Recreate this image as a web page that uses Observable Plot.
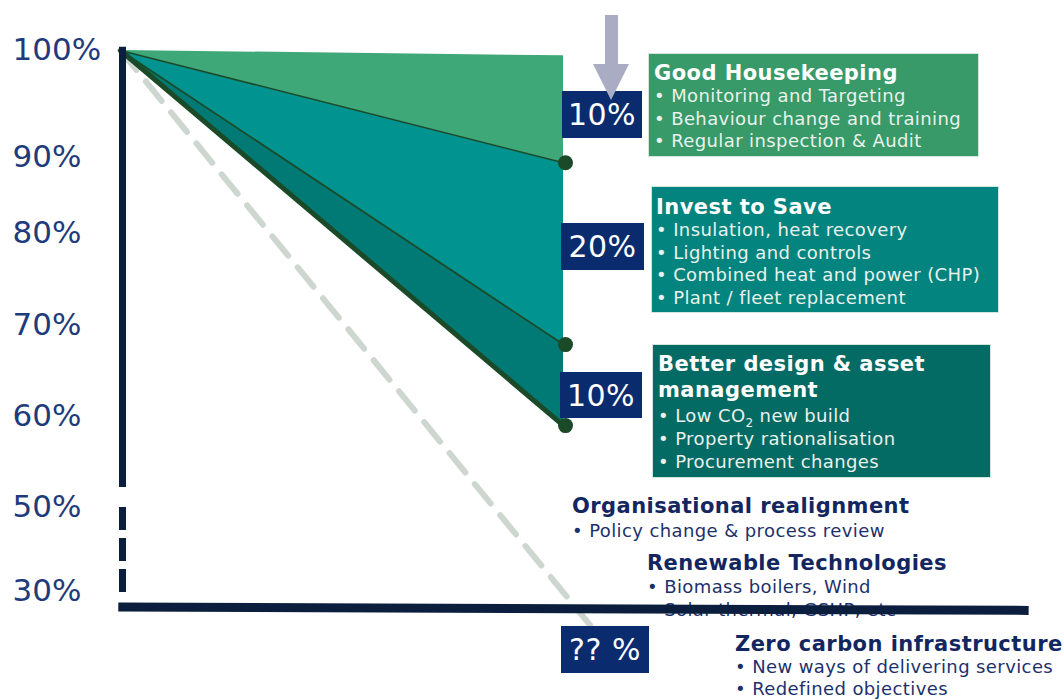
<!DOCTYPE html>
<html><head><meta charset="utf-8">
<script src="https://cdn.jsdelivr.net/npm/d3@7"></script>
<script src="https://cdn.jsdelivr.net/npm/@observablehq/plot@0.6"></script>
<style>
body{margin:0;background:#fff;font-family:"DejaVu Sans",Verdana,sans-serif;}
#wrap{position:relative;width:1064px;height:699px;overflow:hidden;}
.box{position:absolute;box-sizing:border-box;color:#e9f2ec;z-index:2;border:1px solid #d3e6db;}
.t{font-weight:bold;font-size:21px;line-height:24px;color:#fff;white-space:nowrap;letter-spacing:0.45px}
.b{font-size:18px;line-height:22.5px;white-space:nowrap;letter-spacing:0.4px}
.pct{position:absolute;z-index:2;background:#0b2b6f;color:#fff;font-size:30px;display:flex;align-items:center;justify-content:center;box-sizing:border-box;letter-spacing:0.5px}
.low{position:absolute;z-index:0;color:#1c316c}
.low .t{color:#13265f}
.sub{font-size:12px;position:relative;top:5px;line-height:0}
</style></head><body><div id="wrap"></div>
<script>
// ---- data ----
const yTicks = [100, 90, 80, 70, 60, 50, 30];
const stages = [0, 1];                 // start, end of programme
const startLevel = 100;
const bandTop = 99.5;                  // top edge of first band at end
const housekeepingEnd = 89.3;
const investEnd = 67.9;
const designEnd = 59.0;
const projectedEnd = 22;               // dashed projection end value
const projectedStage = 1.06;
const savings = ["10%", "20%", "10%", "?? %"];
const boxTitles = ["Good Housekeeping", "Invest to Save", "Better design &amp; asset management"];
const boxItems = [
  ["Monitoring and Targeting", "Behaviour change and training", "Regular inspection &amp; Audit"],
  ["Insulation, heat recovery", "Lighting and controls", "Combined heat and power (CHP)", "Plant / fleet replacement"],
  ["Low CO<span class='sub'>2</span> new build", "Property rationalisation", "Procurement changes"]
];
const furtherTitles = ["Organisational realignment", "Renewable Technologies", "Zero carbon infrastructure"];
const furtherItems = [
  ["Policy change &amp; process review"],
  ["Biomass boilers, Wind", "Solar thermal, GSHP, etc"],
  ["New ways of delivering services", "Redefined objectives"]
];

// ---- derived tables ----
const bands = [
  {fill: "#3ea879", top: [startLevel, bandTop], bottom: [startLevel, housekeepingEnd]},
  {fill: "#00938f", top: [startLevel, housekeepingEnd], bottom: [startLevel, investEnd]},
  {fill: "#017a76", top: [startLevel, investEnd], bottom: [startLevel, designEnd]}
];
const bandRows = bands.map(b => stages.map((s, i) => ({x: s, y1: b.top[i], y2: b.bottom[i]})));
const ends = [housekeepingEnd, investEnd, designEnd];
const pathLines = ends.map(e => [{x: stages[0], y: startLevel}, {x: stages[1], y: e}]);
const projected = [{x: 0, y: startLevel}, {x: projectedStage, y: projectedEnd}];

const green = "#1b4a29", navy = "#0c1e3e";

const plot = Plot.plot({
  width: 1064, height: 699,
  marginLeft: 0, marginRight: 0, marginTop: 0, marginBottom: 0,
  style: {fontFamily: "DejaVu Sans, Verdana, sans-serif", background: "transparent", overflow: "visible"},
  x: {domain: [0, 1], range: [120, 563], axis: null},
  y: {type: "linear", domain: yTicks, range: [50, 157, 233, 325, 416, 507, 591], axis: null},
  marks: [
    Plot.line(projected, {x: "x", y: "y", stroke: "#cdd7d0", strokeWidth: 6, strokeDasharray: "25,15"}),
    ...bandRows.map((rows, i) => Plot.areaY(rows, {x: "x", y1: "y1", y2: "y2", fill: bands[i].fill})),
    Plot.line(pathLines[0], {x: "x", y: "y", stroke: green, strokeWidth: 1.5}),
    Plot.line(pathLines[1], {x: "x", y: "y", stroke: green, strokeWidth: 1.8}),
    Plot.line(pathLines[2], {x: "x", y: "y", stroke: green, strokeWidth: 5}),
    Plot.dot(ends, {x: () => 1, y: d => d, r: 7.5, fill: green, dx: 2}),
    Plot.ruleX([0], {y1: 100.3, y2: 52.2, stroke: navy, strokeWidth: 7, dx: 2}),
    Plot.ruleX([0], {y1: 50, y2: 29.5, stroke: navy, strokeWidth: 7, dx: 2, strokeDasharray: "23,8"}),
    Plot.link([{x1: -0.005, y1: 26.3, x2: 2.05, y2: 25.5}], {x1: "x1", y1: "y1", x2: "x2", y2: "y2", stroke: navy, strokeWidth: 9}),
    Plot.text(yTicks, {y: d => d, text: d => `${d}%`, frameAnchor: "left", textAnchor: "start", dx: 12, fontSize: 31, fill: "#1f3b7b"})
  ]
});
plot.style.position = "absolute";
plot.style.left = "0px";
plot.style.top = "0px";
plot.style.zIndex = "1";
const wrap = document.getElementById("wrap");
wrap.appendChild(plot);

// ---- annotation layout ----
function el(tag, cls, css, html) {
  const e = document.createElement(tag);
  if (cls) e.className = cls;
  Object.assign(e.style, css || {});
  if (html != null) e.innerHTML = html;
  return e;
}
const boxLayout = [
  {left: "648px", top: "53px", width: "331px", height: "104px", background: "#379a68", padding: "7px 0 0 5px"},
  {left: "651px", top: "186px", width: "348px", height: "127px", background: "#04847f", padding: "8px 0 0 4px"},
  {left: "652px", top: "344px", width: "339px", height: "134px", background: "#046a64", padding: "6px 0 0 5px"}
];
boxTitles.forEach((t, i) => {
  const b = el("div", "box", boxLayout[i]);
  const title = el("div", "t", i === 2 ? {lineHeight: "26px", whiteSpace: "normal", width: "300px"} : {}, t);
  b.appendChild(title);
  boxItems[i].forEach((it, j) => b.appendChild(el("div", "b", i === 2 ? {lineHeight: "23px", marginTop: j === 0 ? "1px" : "0"} : {}, "• " + it)));
  wrap.appendChild(b);
});
const pctLayout = [
  {left: "562px", top: "91px", width: "80px", height: "47px"},
  {left: "561px", top: "223px", width: "83px", height: "47px"},
  {left: "560px", top: "372px", width: "82px", height: "46px"},
  {left: "561px", top: "626px", width: "88px", height: "47px"}
];
savings.forEach((s, i) => wrap.appendChild(el("div", "pct", pctLayout[i], s)));

const lowLayout = [
  {left: "572px", top: "494px", lh: "25px"},
  {left: "647px", top: "551px", lh: "23px"},
  {left: "735px", top: "632px", lh: "21.5px"}
];
furtherTitles.forEach((t, i) => {
  const b = el("div", "low", {left: lowLayout[i].left, top: lowLayout[i].top});
  b.appendChild(el("div", "t", {}, t));
  furtherItems[i].forEach(it => b.appendChild(el("div", "b", {lineHeight: lowLayout[i].lh}, "• " + it)));
  wrap.appendChild(b);
});

// arrow pointing at first saving
wrap.appendChild(el("div", null, {position: "absolute", left: "605px", top: "15px", width: "13px", height: "50px", background: "#a9acc3", zIndex: 3}));
wrap.appendChild(el("div", null, {position: "absolute", left: "593px", top: "64px", width: "0", height: "0",
  borderLeft: "18px solid transparent", borderRight: "18px solid transparent", borderTop: "36px solid #a9acc3", zIndex: 3}));
</script>
</body></html>
